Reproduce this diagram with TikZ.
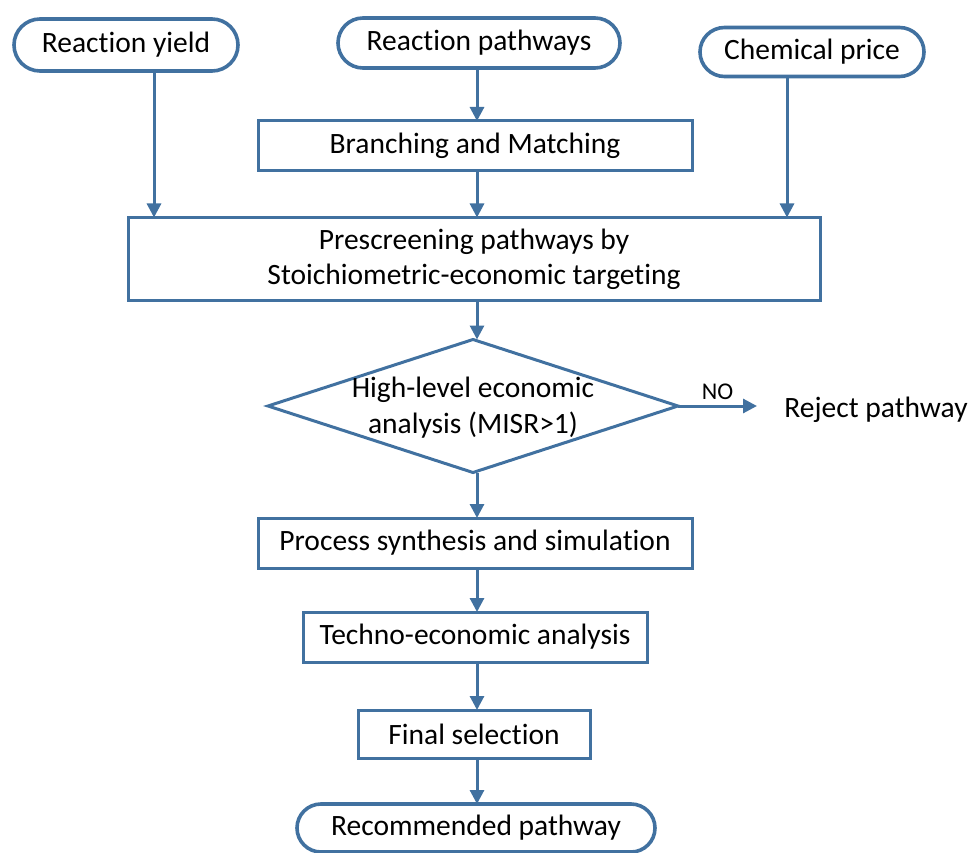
\documentclass[tikz,border=0pt]{standalone}
\usepackage{fontspec}
\setmainfont{Carlito}[RawFeature=-liga]
\usetikzlibrary{arrows.meta,shapes.misc,shapes.geometric}
\definecolor{flowblue}{RGB}{65,113,160}
\begin{document}
\begin{tikzpicture}[x=1pt,y=-1pt,
  font=\fontsize{29.5}{36}\selectfont,
  every node/.style={inner sep=0pt, outer sep=0pt, align=center},
  terminal/.style={draw=flowblue, line width=3.6pt, rounded rectangle, fill=white},
  procbox/.style={draw=flowblue, line width=3pt, rectangle, fill=white},
  decision/.style={draw=flowblue, line width=3pt, diamond, aspect=3.08,
    minimum width=410pt, minimum height=133pt},
  arr/.style={draw=flowblue, line width=3pt, -{Triangle[length=14pt,width=14pt]}}]
\useasboundingbox (0,0) rectangle (972,853);

% inputs
\node[terminal, minimum width=224pt, minimum height=52pt] (yield) at (126,45) {Reaction yield};
\node[terminal, minimum width=282pt, minimum height=50pt] (paths) at (479,43) {Reaction pathways};
\node[terminal, minimum width=224pt, minimum height=49pt] (price) at (812,52) {Chemical price};

% processing chain
\node[procbox, minimum width=434pt, minimum height=50pt] (branch) at (475,146) {Branching and Matching};
\node[procbox, minimum width=692pt, minimum height=83pt] (pre) at (474,259)
  {Prescreening pathways by\\[-1pt]Stoichiometric-economic targeting};
\node[decision] (econ) at (473,406) {};
\node at (473,390) {High-level economic};
\node at (473,425) {analysis (MISR>1)};
\node (reject) at (876,410) {Reject pathway};
\node[procbox, minimum width=434pt, minimum height=50pt] (synth) at (475,543) {Process synthesis and simulation};
\node[procbox, minimum width=344pt, minimum height=50pt] (tea) at (475,637) {Techno-economic analysis};
\node[procbox, minimum width=232pt, minimum height=48pt] (final) at (474,734) {Final selection};
\node[terminal, minimum width=358pt, minimum height=48pt] (rec) at (476,828) {Recommended pathway};

% arrow columns
\coordinate (colL) at (154,0);
\coordinate (colM) at (477,0);
\coordinate (colR) at (787,0);

\draw[arr] (yield.south -| colL) -- (pre.north -| colL);
\draw[arr] (price.south -| colR) -- (pre.north -| colR);
\draw[arr] (paths.south -| colM) -- (branch.north -| colM);
\draw[arr] (branch.south -| colM) -- (pre.north -| colM);
\draw[arr] (pre.south -| colM) -- (econ.north -| colM);
\draw[arr] (econ.south -| colM) -- (synth.north -| colM);
\draw[arr] (synth.south -| colM) -- (tea.north -| colM);
\draw[arr] (tea.south -| colM) -- (final.north -| colM);
\draw[arr] (final.south -| colM) -- (rec.north -| colM);
\draw[arr] (econ.east) -- node[above=6pt, font=\fontsize{24}{28}\selectfont] {NO} (757,406);
\end{tikzpicture}
\end{document}
